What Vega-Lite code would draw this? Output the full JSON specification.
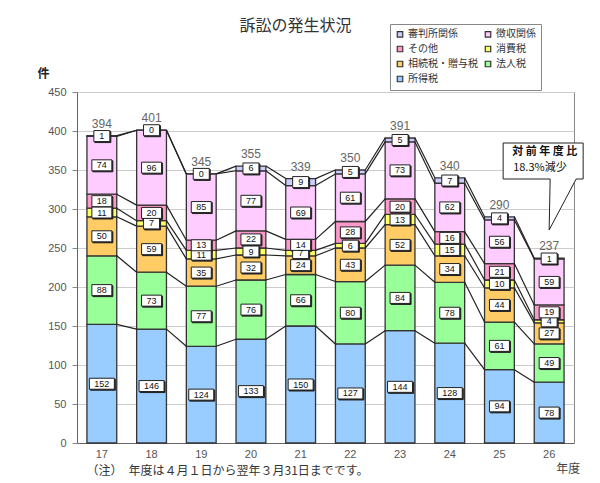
{
  "$schema": "https://vega.github.io/schema/vega-lite/v6.json",
  "width": 497,
  "height": 351,
  "autosize": {"type": "none"},
  "padding": {"left": 77, "top": 92, "right": 26, "bottom": 40},
  "background": "white",
  "title": {"text": "訴訟の発生状況", "font": "Noto Sans CJK JP", "fontSize": 16, "fontWeight": "normal", "color": "#333", "anchor": "middle", "dx": -30, "dy": 14},
  "config": {
    "view": {"stroke": "#888", "strokeWidth": 1},
    "font": "Noto Sans CJK JP",
    "axisY": {
      "titleAngle": 0, "titleX": -34, "titleY": -19, "titleAlign": "center", "titleBaseline": "middle",
      "titleFontWeight": "bold", "titleFontSize": 12, "titleColor": "#222",
      "labelColor": "#555", "labelFontSize": 11, "labelFont": "Liberation Sans", "labelOverlap": false,
      "tickSize": 5, "tickColor": "#888", "domainColor": "#666", "gridColor": "#ccc", "labelPadding": 6
    },
    "axisX": {
      "titleX": 9, "titleY": 27, "titleAlign": "left", "titleAnchor": "start", "titleBaseline": "middle",
      "titleFontWeight": "normal", "titleFontSize": 12, "titleColor": "#333",
      "labelAngle": 0, "labelColor": "#555", "labelFontSize": 11, "labelFont": "Liberation Sans",
      "ticks": false, "labelPadding": 5, "domainColor": "#666", "grid": false
    }
  },
  "datasets": {
    "d": [
      {"year": "17", "所得税": 152, "法人税": 88, "相続税・贈与税": 50, "消費税": 11, "その他": 18, "徴収関係": 74, "審判所関係": 1},
      {"year": "18", "所得税": 146, "法人税": 73, "相続税・贈与税": 59, "消費税": 7, "その他": 20, "徴収関係": 96, "審判所関係": 0},
      {"year": "19", "所得税": 124, "法人税": 77, "相続税・贈与税": 35, "消費税": 11, "その他": 13, "徴収関係": 85, "審判所関係": 0},
      {"year": "20", "所得税": 133, "法人税": 76, "相続税・贈与税": 32, "消費税": 9, "その他": 22, "徴収関係": 77, "審判所関係": 6},
      {"year": "21", "所得税": 150, "法人税": 66, "相続税・贈与税": 24, "消費税": 7, "その他": 14, "徴収関係": 69, "審判所関係": 9},
      {"year": "22", "所得税": 127, "法人税": 80, "相続税・贈与税": 43, "消費税": 6, "その他": 28, "徴収関係": 61, "審判所関係": 5},
      {"year": "23", "所得税": 144, "法人税": 84, "相続税・贈与税": 52, "消費税": 13, "その他": 20, "徴収関係": 73, "審判所関係": 5},
      {"year": "24", "所得税": 128, "法人税": 78, "相続税・贈与税": 34, "消費税": 15, "その他": 16, "徴収関係": 62, "審判所関係": 7},
      {"year": "25", "所得税": 94, "法人税": 61, "相続税・贈与税": 44, "消費税": 10, "その他": 21, "徴収関係": 56, "審判所関係": 4},
      {"year": "26", "所得税": 78, "法人税": 49, "相続税・贈与税": 27, "消費税": 4, "その他": 19, "徴収関係": 59, "審判所関係": 1}
    ],
    "note": [
      {"year": "26", "y": 300, "line1": "対 前 年 度 比", "line2": "18.3%減少"}
    ],
    "unit": [
      {"year": "26", "y": 0, "label": "年度"}
    ]
  },
  "layer": [
    {
      "data": {"name": "d"},
      "transform": [
        {"fold": ["所得税", "法人税", "相続税・贈与税", "消費税", "その他", "徴収関係", "審判所関係"], "as": ["cat", "value"]},
        {"calculate": "indexof(['所得税','法人税','相続税・贈与税','消費税','その他','徴収関係','審判所関係'], datum.cat)", "as": "k"},
        {"stack": "value", "groupby": ["year"], "sort": [{"field": "k", "order": "ascending"}], "as": ["y0", "y1"]},
        {"calculate": "(datum.y0 + datum.y1) / 2", "as": "ym"}
      ],
      "layer": [
        {
          "mark": {"type": "bar", "stroke": "#333", "strokeWidth": 1.3},
          "encoding": {
            "x": {"field": "year", "type": "nominal", "title": "（注）　年度は４月１日から翌年３月31日までです。",
                  "scale": {"paddingInner": 0.4, "paddingOuter": 0.2}},
            "y": {"field": "y1", "type": "quantitative", "title": "件",
                  "scale": {"domain": [0, 450], "nice": false},
                  "axis": {"values": [0, 50, 100, 150, 200, 250, 300, 350, 400, 450]}},
            "y2": {"field": "y0"},
            "color": {
              "field": "cat", "type": "nominal",
              "scale": {
                "domain": ["審判所関係", "その他", "相続税・贈与税", "所得税", "徴収関係", "消費税", "法人税"],
                "range": ["#ccccff", "#ff99cc", "#ffcc66", "#99ccff", "#ffccff", "#ffff66", "#99ff99"]
              },
              "legend": {
                "title": null, "orient": "none", "legendX": 313, "legendY": -68, "columns": 2, "gridAlign": "all",
                "columnPadding": 4, "rowPadding": 3, "padding": 5,
                "strokeColor": "#888", "fillColor": "white",
                "symbolType": "square", "symbolSize": 30, "symbolStrokeColor": "#333", "symbolStrokeWidth": 1.2,
                "labelFontSize": 10, "labelFont": "Noto Sans CJK JP", "labelColor": "#333", "labelOffset": 3
              }
            }
          }
        },
        {
          "transform": [
            {"window": [{"op": "lead", "field": "year", "as": "ny"}, {"op": "lead", "field": "y1", "as": "ny1"}], "groupby": ["cat"], "sort": [{"field": "year", "order": "ascending"}]},
            {"filter": "datum.ny != null"}
          ],
          "mark": {"type": "rule", "color": "#222", "strokeWidth": 1.2, "xOffset": 14.9, "x2Offset": -14.9},
          "encoding": {
            "x": {"field": "year", "type": "nominal", "title": "（注）　年度は４月１日から翌年３月31日までです。"},
            "x2": {"field": "ny"},
            "y": {"field": "y1", "type": "quantitative", "title": "件", "axis": {"values": [0, 50, 100, 150, 200, 250, 300, 350, 400, 450]}},
            "y2": {"field": "ny1"}
          }
        },
        {
          "mark": {"type": "point", "filled": true, "fill": "#222", "stroke": "#222", "strokeWidth": 1, "opacity": 1, "size": 400, "xOffset": 1, "yOffset": 1},
          "encoding": {
            "x": {"field": "year", "type": "nominal", "title": "（注）　年度は４月１日から翌年３月31日までです。"},
            "y": {"field": "ym", "type": "quantitative", "title": "件", "axis": {"values": [0, 50, 100, 150, 200, 250, 300, 350, 400, 450]}},
            "shape": {
              "condition": [
                {"test": "datum.value >= 100", "value": "M-1.25,-0.55L1.25,-0.55L1.25,0.55L-1.25,0.55Z"},
                {"test": "datum.value >= 10", "value": "M-1,-0.55L1,-0.55L1,0.55L-1,0.55Z"}
              ],
              "value": "M-0.8,-0.55L0.8,-0.55L0.8,0.55L-0.8,0.55Z"
            }
          }
        },
        {
          "mark": {"type": "point", "filled": true, "fill": "white", "stroke": "#222", "strokeWidth": 1, "opacity": 1, "size": 400},
          "encoding": {
            "x": {"field": "year", "type": "nominal", "title": "（注）　年度は４月１日から翌年３月31日までです。"},
            "y": {"field": "ym", "type": "quantitative", "title": "件", "axis": {"values": [0, 50, 100, 150, 200, 250, 300, 350, 400, 450]}},
            "shape": {
              "condition": [
                {"test": "datum.value >= 100", "value": "M-1.25,-0.55L1.25,-0.55L1.25,0.55L-1.25,0.55Z"},
                {"test": "datum.value >= 10", "value": "M-1,-0.55L1,-0.55L1,0.55L-1,0.55Z"}
              ],
              "value": "M-0.8,-0.55L0.8,-0.55L0.8,0.55L-0.8,0.55Z"
            }
          }
        },
        {
          "mark": {"type": "text", "font": "Liberation Sans", "fontSize": 9, "color": "#111", "baseline": "middle", "align": "center"},
          "encoding": {
            "x": {"field": "year", "type": "nominal", "title": "（注）　年度は４月１日から翌年３月31日までです。"},
            "y": {"field": "ym", "type": "quantitative", "title": "件", "axis": {"values": [0, 50, 100, 150, 200, 250, 300, 350, 400, 450]}},
            "text": {"field": "value", "type": "quantitative"}
          }
        },
        {
          "transform": [{"aggregate": [{"op": "sum", "field": "value", "as": "tot"}], "groupby": ["year"]}],
          "mark": {"type": "text", "font": "Liberation Sans", "fontSize": 12, "color": "#666", "baseline": "bottom", "align": "center", "dy": -5},
          "encoding": {
            "x": {"field": "year", "type": "nominal", "title": "（注）　年度は４月１日から翌年３月31日までです。"},
            "y": {"field": "tot", "type": "quantitative", "title": "件", "axis": {"values": [0, 50, 100, 150, 200, 250, 300, 350, 400, 450]}},
            "text": {"field": "tot", "type": "quantitative"}
          }
        }
      ]
    },
    {
      "data": {"name": "note"},
      "layer": [
        {
          "mark": {"type": "point", "filled": true, "fill": "white", "stroke": "#222", "strokeWidth": 1, "opacity": 1, "size": 10000,
                   "shape": "M-0.92,-1.32L0.68,-1.32L0.68,-0.6L0.54,-0.6L0,0.42L0.02,-0.6L-0.92,-0.6Z"},
          "encoding": {
            "x": {"field": "year", "type": "nominal", "title": "（注）　年度は４月１日から翌年３月31日までです。"},
            "y": {"field": "y", "type": "quantitative", "title": "件", "axis": {"values": [0, 50, 100, 150, 200, 250, 300, 350, 400, 450]}}
          }
        },
        {
          "mark": {"type": "text", "font": "Noto Sans CJK JP", "fontSize": 11, "fontWeight": "bold", "color": "#111", "align": "left", "baseline": "middle", "dx": -37, "dy": -57},
          "encoding": {
            "x": {"field": "year", "type": "nominal", "title": "（注）　年度は４月１日から翌年３月31日までです。"},
            "y": {"field": "y", "type": "quantitative", "title": "件", "axis": {"values": [0, 50, 100, 150, 200, 250, 300, 350, 400, 450]}},
            "text": {"field": "line1"}
          }
        },
        {
          "mark": {"type": "text", "font": "Noto Sans CJK JP", "fontSize": 11, "color": "#111", "align": "left", "baseline": "middle", "dx": -36, "dy": -41},
          "encoding": {
            "x": {"field": "year", "type": "nominal", "title": "（注）　年度は４月１日から翌年３月31日までです。"},
            "y": {"field": "y", "type": "quantitative", "title": "件", "axis": {"values": [0, 50, 100, 150, 200, 250, 300, 350, 400, 450]}},
            "text": {"field": "line2"}
          }
        }
      ]
    },
    {
      "data": {"name": "unit"},
      "mark": {"type": "text", "font": "Noto Sans CJK JP", "fontSize": 12, "color": "#444", "align": "left", "baseline": "middle", "dx": 7, "dy": 26},
      "encoding": {
        "x": {"field": "year", "type": "nominal", "title": "（注）　年度は４月１日から翌年３月31日までです。"},
        "y": {"field": "y", "type": "quantitative", "title": "件", "axis": {"values": [0, 50, 100, 150, 200, 250, 300, 350, 400, 450]}},
        "text": {"field": "label"}
      }
    }
  ]
}
